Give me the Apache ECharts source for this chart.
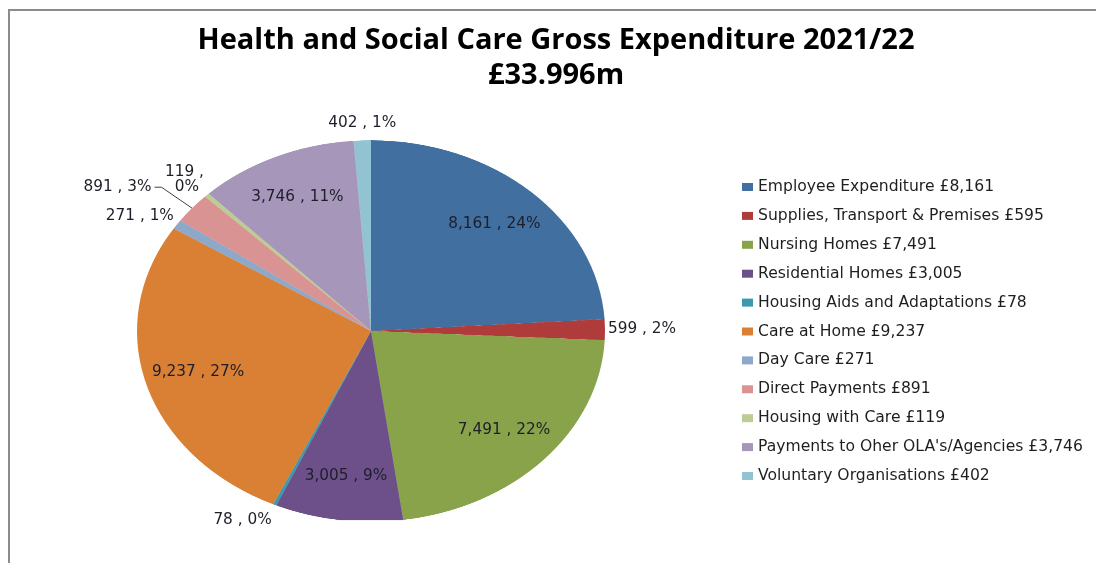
<!DOCTYPE html>
<html>
<head>
<meta charset="utf-8">
<title>Health and Social Care Gross Expenditure 2021/22</title>
<script src="https://cdn.jsdelivr.net/npm/echarts@6/dist/echarts.min.js"></script>
<style>
  html, body { margin: 0; padding: 0; background: #ffffff; }
  #wrap { position: relative; width: 1096px; height: 563px; overflow: hidden; background: #ffffff; }
  #sectors, #chart { position: absolute; left: 0; top: 0; width: 1096px; height: 563px; }
  /* the pie is drawn as a flattened ellipse: squash the sector layer vertically about the pie centre */
  #sectors { transform: scaleY(0.815); transform-origin: 0 331px; }
</style>
</head>
<body>
<div id="wrap">
  <div id="sectors"></div>
  <div id="chart"></div>
</div>
<script>
// ---- data ----
const categories = [
  'Employee Expenditure',
  'Supplies, Transport & Premises',
  'Nursing Homes',
  'Residential Homes',
  'Housing Aids and Adaptations',
  'Care at Home',
  'Day Care',
  'Direct Payments',
  'Housing with Care',
  "Payments to Oher OLA's/Agencies",
  'Voluntary Organisations'
];
// slice values (£000), as stated by the slice labels
const values = [8161, 599, 7491, 3005, 78, 9237, 271, 891, 119, 3746, 402];
// amounts quoted in the legend text
const legendAmounts = [8161, 595, 7491, 3005, 78, 9237, 271, 891, 119, 3746, 402];
const titleLines = ['Health and Social Care Gross Expenditure 2021/22', '£33.996m'];

// ---- styling ----
const colors = ['#4170a0', '#b03b3b', '#89a34a', '#6d5089', '#3b9ab0', '#d98035',
                '#8ea8ca', '#d89392', '#bccc94', '#a697ba', '#92c3d3'];
const CX = 371, CY = 331, R = 234, K = 0.815;   // pie centre, horizontal radius, vertical squash
const INSIDE_MIN = 1000;      // slices at least this big carry their label inside
const INNER = 0.77;           // radial position of inside labels
const calloutLabels = { 'Direct Payments': 37 };    // labels pulled out on a leader line
const wrappedLabels = { 'Housing with Care': 40 };  // labels wrapped onto two lines
const LABEL_FONT = 'DejaVu Sans';

const fmt = v => v.toLocaleString('en-US');

// mid angle of each slice, clockwise from 12 o'clock
const total = values.reduce((s, v) => s + v, 0);
const midAngles = [];
(function () {
  let acc = 0;
  values.forEach(v => { midAngles.push((acc + v / 2) / total * Math.PI * 2); acc += v; });
})();

// ---- sector layer ----
const sectors = echarts.init(document.getElementById('sectors'), null, { renderer: 'canvas', devicePixelRatio: 2 });
sectors.setOption({
  animation: false,
  series: [{
    type: 'pie',
    center: [CX, CY],
    radius: R,
    startAngle: 90,
    clockwise: true,
    silent: true,
    label: { show: false },
    labelLine: { show: false },
    itemStyle: { borderWidth: 0 },
    data: categories.map((name, i) => ({ name, value: values[i], itemStyle: { color: colors[i] } }))
  }]
});

// ---- labels, title, legend ----
function placeLabel(p) {
  const i = p.dataIndex;
  const a = midAngles[i];
  const sx = Math.sin(a), cy = -Math.cos(a);
  if (values[i] >= INSIDE_MIN) {
    return { x: CX + INNER * R * sx, y: CY + INNER * R * K * cy, align: 'center', verticalAlign: 'middle' };
  }
  const px = CX + R * sx, py = CY + R * K * cy;          // rim point of the slice
  const len = Math.hypot(sx, cy * K);
  const ux = sx / len, uy = cy * K / len;
  const w = p.labelRect.width, h = p.labelRect.height;
  const ext = calloutLabels[categories[i]];
  if (ext) {
    const ex = px + ux * ext, ey = py + uy * ext;
    const side = ux < 0 ? -1 : 1;
    const tx = ex + side * 7;
    return {
      x: tx + side * (3 + w / 2), y: ey, align: 'center', verticalAlign: 'middle',
      labelLinePoints: [[px, py], [ex, ey], [tx, ey]]
    };
  }
  const x = Math.abs(ux) < 0.3 ? px : px + Math.sign(ux) * (3 + w / 2);
  const y = py + uy * (h / 2 + 10);
  return { x, y, align: 'center', verticalAlign: 'middle' };
}

const chart = echarts.init(document.getElementById('chart'), null, { renderer: 'canvas' });
chart.setOption({
  animation: false,
  backgroundColor: 'transparent',
  title: {
    text: titleLines.join('\n'),
    left: 556,
    top: 23,
    padding: 0,
    textAlign: 'center',
    textStyle: { fontFamily: 'Open Sans', fontWeight: 'bold', fontSize: 29, lineHeight: 35, color: '#000000' }
  },
  legend: {
    orient: 'vertical',
    left: 737,
    top: 174,
    itemWidth: 11,
    itemHeight: 8,
    itemGap: 12.9,
    icon: 'rect',
    selectedMode: false,
    textStyle: { fontFamily: LABEL_FONT, fontSize: 15.6, color: '#1e1e1e' },
    formatter: name => name + ' £' + fmt(legendAmounts[categories.indexOf(name)]),
    data: categories.map((name, i) => ({ name, itemStyle: { color: colors[i], borderWidth: 0 } }))
  },
  graphic: [{
    type: 'polyline',
    silent: true,
    shape: { points: [[9, 563], [9, 10], [1096, 10]] },
    style: { stroke: '#8c8c8c', lineWidth: 2, fill: null }
  }],
  series: [{
    type: 'pie',
    center: [CX, CY],
    radius: R,
    startAngle: 90,
    clockwise: true,
    silent: true,
    percentPrecision: 0,
    itemStyle: { color: 'rgba(0,0,0,0)', borderWidth: 0 },
    label: {
      show: true,
      color: '#1e1e2a',
      fontFamily: LABEL_FONT,
      fontSize: 15.3,
      formatter: p => fmt(p.value) + ' , ' + Math.round(p.percent) + '%'
    },
    labelLine: { show: false },
    labelLayout: placeLabel,
    data: categories.map((name, i) => {
      const item = {
        name,
        value: values[i],
        label: { position: values[i] >= INSIDE_MIN ? 'inside' : 'outside' }
      };
      if (wrappedLabels[name]) {
        item.label.width = wrappedLabels[name];
        item.label.overflow = 'break';
      }
      if (calloutLabels[name]) {
        item.labelLine = { show: true, lineStyle: { color: '#404040', width: 1 } };
      }
      return item;
    })
  }]
});
</script>
</body>
</html>
